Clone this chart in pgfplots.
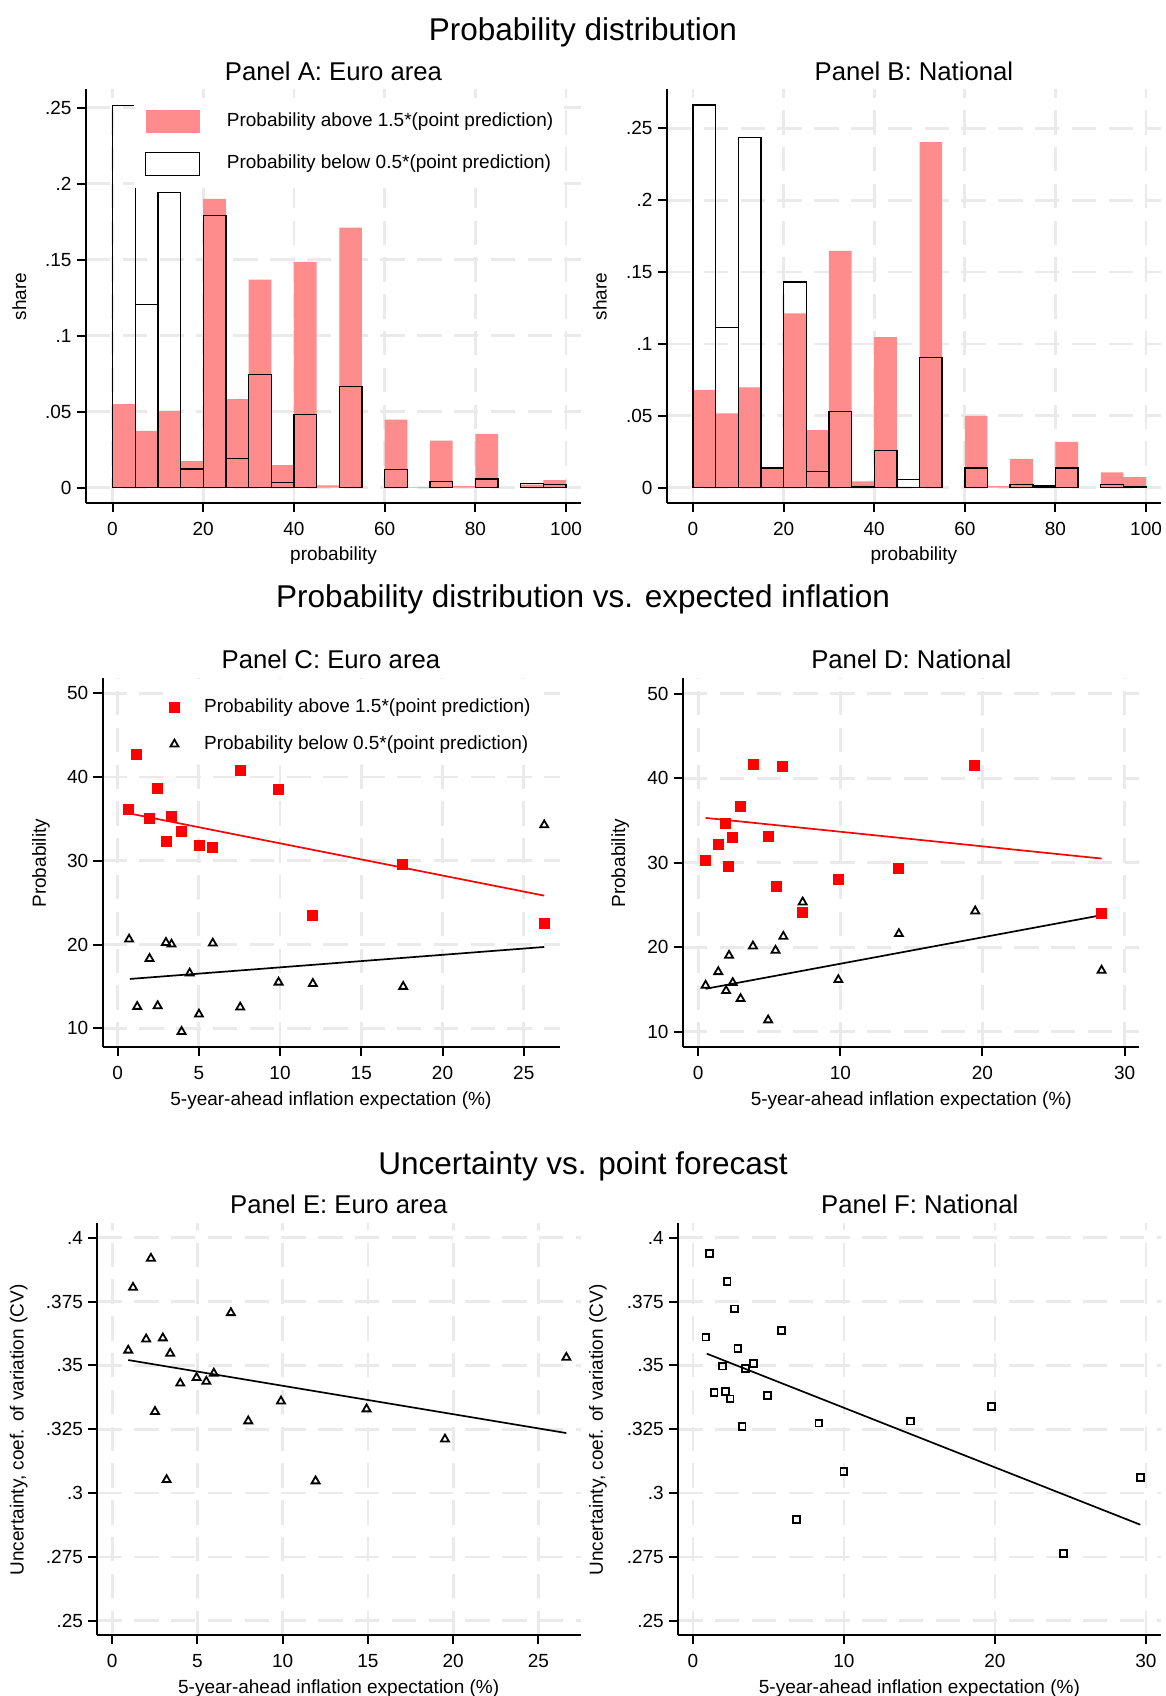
\documentclass[border=0pt]{standalone}
\usepackage{fontspec}
\setmainfont{Liberation Sans}
\usepackage{pgfplots}
\pgfplotsset{compat=1.18}
\definecolor{barred}{RGB}{255,140,140}
\definecolor{gridgray}{RGB}{234,234,234}
\newcommand{\tsz}{\fontsize{9.5}{11}\selectfont}
\newcommand{\psz}{\fontsize{12.85}{15}\selectfont}
\newcommand{\msz}{\fontsize{15.75}{18}\selectfont}
\pgfplotsset{
  stata/.style={
    scale only axis, anchor=south west,
    axis x line*=bottom, axis y line*=left,
    axis line style={line width=1pt, black, -},
    tick align=outside, major tick length=4.7pt,
    every tick/.style={line width=1pt, black},
    grid=major,
    major grid style={line width=1.35pt, gridgray, dash pattern=on 12.2pt off 6.2pt},
    tick label style={font=\tsz},
    xticklabel style={yshift=-1.5pt},
    yticklabel style={xshift=1pt},
    /pgf/number format/assume math mode=true,
    legend cell align=left,
  },
  redbar/.style={ybar, bar width=5, bar shift=0pt, fill=barred, draw=none,
    legend image code/.code={\fill[barred] (0pt,-5.85pt) rectangle (27.15pt,5.85pt);}},
  outbar/.style={ybar, bar width=5, bar shift=0pt, fill=none, draw=black, line width=0.7pt,
    legend image code/.code={\draw[black, line width=0.6pt] (0pt,-5.85pt) rectangle (27.15pt,5.85pt);}},
  redsq/.style={only marks, mark=square*, mark size=2.5pt, red, mark options={draw=red, fill=red},
    legend image code/.code={\draw[##1] plot coordinates {(0pt,0pt)};}},
  tri/.style={only marks, mark=triangle, mark size=2.3pt, black, mark options={line width=0.9pt, solid},
    legend image code/.code={\draw[##1] plot coordinates {(0pt,0pt)};}},
  hsq/.style={only marks, mark=square, mark size=1.7pt, black, mark options={line width=0.9pt, solid}},
  fitred/.style={red, line width=0.85pt, forget plot},
  fitblk/.style={black, line width=0.85pt, forget plot},
}
\begin{document}
\begin{tikzpicture}
\path[use as bounding box] (0,0) rectangle (583pt,848pt);

% titles
\node[font=\msz] at (291.5pt,831.7pt) {Probability distribution};
\node[font=\psz] at (166.75pt,812.15pt) {Panel A: Euro area};
\node[font=\psz] at (456.95pt,812.15pt) {Panel B: National};
\node[font=\msz] at (291.5pt,548.3pt) {Probability distribution vs. expected inflation};
\node[font=\psz] at (165.45pt,518.35pt) {Panel C: Euro area};
\node[font=\psz] at (455.65pt,518.35pt) {Panel D: National};
\node[font=\msz] at (291.5pt,264.7pt) {Uncertainty vs. point forecast};
\node[font=\psz] at (169.4pt,246pt) {Panel E: Euro area};
\node[font=\psz] at (459.9pt,246pt) {Panel F: National};

% axis labels
\node[font=\tsz] at (166.75pt,570.35pt) {probability};
\node[font=\tsz] at (456.95pt,570.35pt) {probability};
\node[font=\tsz, rotate=90] at (9.65pt,699.65pt) {share};
\node[font=\tsz, rotate=90] at (299.85pt,699.65pt) {share};
\node[font=\tsz] at (165.45pt,297.85pt) {5-year-ahead inflation expectation (\%)};
\node[font=\tsz] at (455.65pt,297.85pt) {5-year-ahead inflation expectation (\%)};
\node[font=\tsz, rotate=90] at (20.45pt,416.35pt) {Probability};
\node[font=\tsz, rotate=90] at (310.1pt,416.35pt) {Probability};
\node[font=\tsz] at (169.35pt,3.65pt) {5-year-ahead inflation expectation (\%)};
\node[font=\tsz] at (459.7pt,3.65pt) {5-year-ahead inflation expectation (\%)};
\node[font=\tsz, rotate=90] at (9.3pt,133pt) {Uncertainty, coef. of variation (CV)};
\node[font=\tsz, rotate=90] at (298.95pt,133pt) {Uncertainty, coef. of variation (CV)};

% Panel A
\begin{axis}[stata, at={(43pt,596.65pt)}, width=247.5pt, height=206.7pt,
  xmin=-5.85, xmax=103.3, ymin=-0.00987, ymax=0.262,
  xtick={0,20,40,60,80,100}, ytick={0,0.05,0.1,0.15,0.2,0.25}, yticklabels={0,.05,.1,.15,.2,.25},
  legend style={at={(axis cs:4.75,0.2565)}, anchor=north west, draw=none, fill=white,
    inner xsep=5.25pt, inner ysep=5.8pt, font=\tsz, row sep=9.3pt, column sep=13.2pt,
    nodes={inner sep=0pt, text height=6.8pt, text depth=2pt}},
]
\addplot[redbar] coordinates {(2.5,0.055) (7.5,0.0373) (12.5,0.0504) (17.5,0.0175) (22.5,0.190) (27.5,0.0583) (32.5,0.1368) (37.5,0.0149) (42.5,0.1485) (47.5,0.0015) (52.5,0.171) (62.5,0.0447) (67.5,0.0004) (72.5,0.0309) (77.5,0.001) (82.5,0.0353) (92.5,0.002) (97.5,0.005)};
\addlegendentry{Probability above 1.5*(point prediction)}
\addplot[outbar] coordinates {(2.5,0.2515) (7.5,0.1206) (12.5,0.1943) (17.5,0.0123) (22.5,0.179) (27.5,0.0193) (32.5,0.0746) (37.5,0.0033) (42.5,0.0482) (52.5,0.0664) (62.5,0.0121) (72.5,0.0042) (82.5,0.0057) (92.5,0.0029) (97.5,0.0022)};
\addlegendentry{Probability below 0.5*(point prediction)}
\end{axis}

% Panel B
\begin{axis}[stata, at={(333.5pt,596.65pt)}, width=247pt, height=206.7pt,
  xmin=-5.74, xmax=103.3, ymin=-0.01044, ymax=0.2772,
  xtick={0,20,40,60,80,100}, ytick={0,0.05,0.1,0.15,0.2,0.25}, yticklabels={0,.05,.1,.15,.2,.25},
]
\addplot[redbar] coordinates {(2.5,0.068) (7.5,0.0517) (12.5,0.0698) (17.5,0.0137) (22.5,0.1213) (27.5,0.0401) (32.5,0.1647) (37.5,0.0044) (42.5,0.1048) (52.5,0.2405) (62.5,0.0499) (67.5,0.001) (72.5,0.020) (77.5,0.001) (82.5,0.0318) (92.5,0.0107) (97.5,0.0074)};
\addplot[outbar] coordinates {(2.5,0.2662) (7.5,0.1113) (12.5,0.2435) (17.5,0.0137) (22.5,0.1431) (27.5,0.0111) (32.5,0.0531) (37.5,0.0007) (42.5,0.026) (47.5,0.0056) (52.5,0.0907) (62.5,0.0137) (72.5,0.0023) (77.5,0.0012) (82.5,0.0137) (92.5,0.0023) (97.5,0.001)};
\end{axis}

% Panel C
\begin{axis}[stata, at={(51.3pt,324.65pt)}, width=228.45pt, height=184.2pt,
  xmin=-0.92, xmax=27.2, ymin=7.8, ymax=51.8,
  xtick={0,5,10,15,20,25}, ytick={10,20,30,40,50},
  legend style={at={(axis cs:2.8,50.33)}, anchor=north west, draw=none, fill=white,
    inner xsep=3pt, inner ysep=4pt, font=\tsz, row sep=9.4pt, column sep=12.35pt,
    nodes={inner sep=0pt, text height=6.8pt, text depth=2pt}},
]
\addplot[redsq] coordinates {(0.69,36.19) (1.19,42.76) (1.97,35.03) (2.43,38.70) (2.98,32.37) (3.32,35.31) (3.94,33.56) (5.01,31.89) (5.86,31.65) (7.53,40.85) (9.87,38.58) (12.02,23.53) (17.54,29.54) (26.26,22.58)};
\addlegendentry{Probability above 1.5*(point prediction)}
\addplot[tri] coordinates {(0.71,20.63) (1.21,12.59) (1.97,18.32) (2.47,12.67) (2.98,20.23) (3.32,20.03) (3.94,9.60) (4.44,16.57) (5.01,11.67) (5.86,20.15) (7.55,12.51) (9.91,15.49) (12.02,15.33) (17.58,14.98) (26.26,34.28)};
\addlegendentry{Probability below 0.5*(point prediction)}
\addplot[fitred] coordinates {(0.69,35.67) (26.26,25.84)};
\addplot[fitblk] coordinates {(0.76,15.89) (26.26,19.71)};
\end{axis}

% Panel D
\begin{axis}[stata, at={(341.5pt,324.65pt)}, width=227.9pt, height=184.2pt,
  xmin=-1.07, xmax=31.0, ymin=8.23, ymax=51.82,
  xtick={0,10,20,30}, ytick={10,20,30,40,50},
]
\addplot[redsq] coordinates {(0.52,30.22) (1.39,32.11) (1.94,34.63) (2.14,29.51) (2.43,32.94) (2.98,36.68) (3.85,41.65) (4.97,33.13) (5.47,27.22) (5.94,41.41) (7.35,24.15) (9.89,28.05) (14.10,29.35) (19.46,41.53) (28.38,24.03)};
\addplot[tri] coordinates {(0.52,15.48) (1.41,17.09) (2.17,19.02) (1.96,14.85) (2.43,15.80) (2.98,13.90) (3.85,20.13) (4.92,11.38) (5.44,19.62) (5.99,21.27) (7.35,25.33) (9.86,16.15) (14.12,21.59) (19.49,24.27) (28.38,17.25)};
\addplot[fitred] coordinates {(0.52,35.30) (28.38,30.49)};
\addplot[fitblk] coordinates {(0.52,15.08) (28.38,23.79)};
\end{axis}

% Panel E
\begin{axis}[stata, at={(48.7pt,30.5pt)}, width=241.8pt, height=206.15pt,
  xmin=-0.87, xmax=27.5, ymin=0.2444, ymax=0.4059,
  xtick={0,5,10,15,20,25}, ytick={0.25,0.275,0.3,0.325,0.35,0.375,0.4},
  yticklabels={.25,.275,.3,.325,.35,.375,.4},
]
\addplot[tri] coordinates {(0.94,0.3559) (1.22,0.3805) (1.99,0.3603) (2.27,0.3919) (2.51,0.3319) (2.97,0.3607) (3.19,0.3052) (3.40,0.3547) (3.99,0.3430) (4.95,0.3452) (5.52,0.3437) (5.96,0.3469) (6.96,0.3706) (7.98,0.3282) (9.90,0.3360) (11.93,0.3047) (14.92,0.3329) (19.52,0.3211) (26.64,0.3531)};
\addplot[fitblk] coordinates {(0.94,0.3521) (26.64,0.3235)};
\end{axis}

% Panel F
\begin{axis}[stata, at={(339.1pt,30.5pt)}, width=241.4pt, height=206.15pt,
  xmin=-0.98, xmax=31.0, ymin=0.2444, ymax=0.4059,
  xtick={0,10,20,30}, ytick={0.25,0.275,0.3,0.325,0.35,0.375,0.4},
  yticklabels={.25,.275,.3,.325,.35,.375,.4},
]
\addplot[hsq] coordinates {(0.86,0.3611) (1.11,0.3939) (1.40,0.3394) (1.97,0.3497) (2.17,0.3397) (2.26,0.3828) (2.46,0.3369) (2.73,0.3721) (2.98,0.3567) (3.25,0.3260) (3.49,0.3488) (3.99,0.3507) (4.92,0.3383) (5.86,0.3637) (6.87,0.2896) (8.34,0.3274) (10.0,0.3085) (14.42,0.3282) (19.76,0.3338) (24.56,0.2764) (29.63,0.3061)};
\addplot[fitblk] coordinates {(0.91,0.3546) (29.63,0.2876)};
\end{axis}
\end{tikzpicture}
\end{document}
